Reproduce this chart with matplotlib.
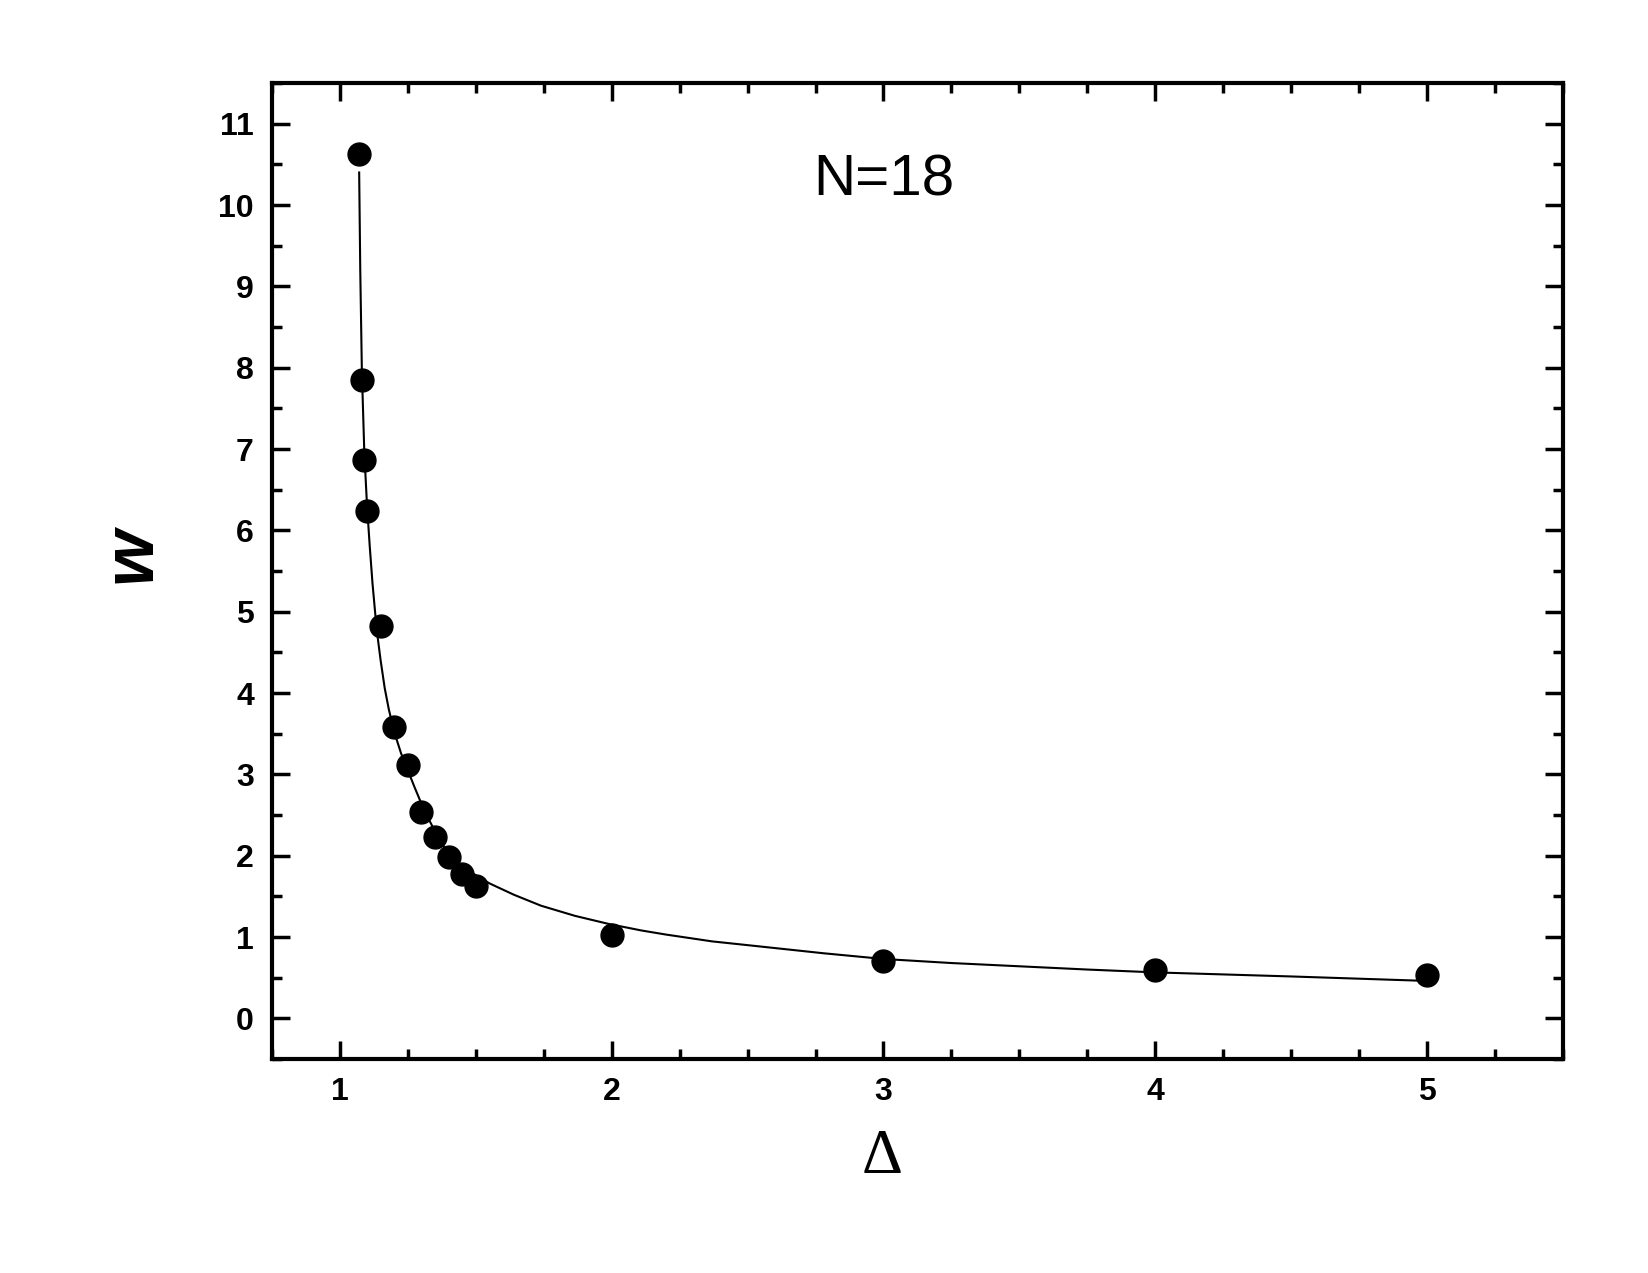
import numpy as np
import matplotlib
matplotlib.use("Agg")
import matplotlib.pyplot as plt
from matplotlib.ticker import MultipleLocator

# measured points
delta = [1.07, 1.08, 1.09, 1.10, 1.15, 1.20, 1.25, 1.30, 1.35, 1.40, 1.45, 1.50, 2.0, 3.0, 4.0, 5.0]
w = [10.63, 7.85, 6.86, 6.24, 4.82, 3.58, 3.11, 2.54, 2.23, 1.98, 1.77, 1.63, 1.02, 0.71, 0.59, 0.53]

# fitted curve
fit_x = [1.071, 1.075, 1.081, 1.090, 1.100, 1.110, 1.120, 1.130, 1.140, 1.150, 1.165, 1.180,
         1.200, 1.225, 1.250, 1.275, 1.300, 1.325, 1.350, 1.375, 1.400, 1.450, 1.500, 1.550,
         1.640, 1.740, 1.865, 1.990, 2.110, 2.200, 2.370, 2.500, 2.780, 3.000, 3.250, 3.500,
         3.750, 4.000, 4.500, 5.000]
fit_y = [10.40, 9.20, 7.95, 6.95, 6.30, 5.80, 5.35, 4.98, 4.66, 4.40, 4.06, 3.80,
         3.52, 3.26, 3.05, 2.84, 2.64, 2.46, 2.30, 2.15, 2.03, 1.87, 1.76, 1.66,
         1.52, 1.385, 1.26, 1.16, 1.08, 1.03, 0.946, 0.90, 0.80, 0.73, 0.68, 0.64,
         0.60, 0.565, 0.515, 0.46]

plt.rcParams['font.family'] = ['Liberation Sans', 'DejaVu Sans']

fig = plt.figure(figsize=(16.48, 12.73), dpi=100)
ax = fig.add_axes([0.165, 0.1681, 0.7834, 0.7667])

ax.plot(fit_x, fit_y, color='black', lw=1.5, zorder=2)
ax.plot(delta, w, 'o', color='black', markersize=16.5, zorder=3)

ax.set_xlim(0.75, 5.5)
ax.set_ylim(-0.5, 11.5)
ax.xaxis.set_major_locator(MultipleLocator(1))
ax.xaxis.set_minor_locator(MultipleLocator(0.25))
ax.yaxis.set_major_locator(MultipleLocator(1))
ax.yaxis.set_minor_locator(MultipleLocator(0.5))

for s in ax.spines.values():
    s.set_linewidth(3)
ax.tick_params(which='both', direction='in', top=True, right=True, width=2.5, labelsize=23)
ax.tick_params(which='major', length=13)
ax.tick_params(which='minor', length=7)
ax.tick_params(axis='x', pad=13)
ax.tick_params(axis='y', pad=13)
for lab in ax.get_xticklabels() + ax.get_yticklabels():
    lab.set_fontweight('bold')

ax.text(3.0, 10.3, 'N=18', fontsize=42, ha='center', va='center')

ax.set_xlabel('\u0394', fontsize=46, family=['Liberation Serif', 'DejaVu Serif'])
ax.xaxis.set_label_coords(0.473, -0.072)
ax.xaxis.label.set_va('top')
ax.set_ylabel('w', fontsize=52, fontweight='bold', fontstyle='italic')
ax.yaxis.set_label_coords(-0.109, 0.517)
ax.yaxis.label.set_va('center')

fig.savefig('out.png', dpi=100)
